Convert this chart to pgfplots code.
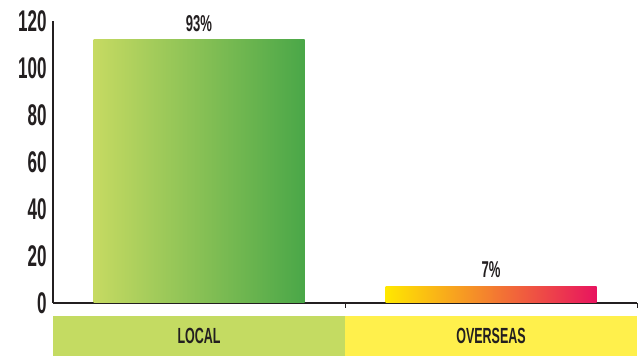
\documentclass[border=0pt]{standalone}
\usepackage{pgfplots}
\pgfplotsset{compat=1.18}
\usepackage{fontspec}
\setmainfont{Liberation Sans}[FakeStretch=0.57]
\definecolor{txt}{HTML}{231F20}
\definecolor{gA}{HTML}{C6DA62}
\definecolor{gB}{HTML}{4AA748}
\definecolor{oA}{HTML}{FFE800}
\definecolor{oB}{HTML}{F6995A}
\definecolor{oC}{HTML}{E8135F}
\definecolor{bandL}{HTML}{C4DB62}
\definecolor{bandO}{HTML}{FFF04C}
\begin{document}
\begin{tikzpicture}[x=1bp,y=1bp]
\begin{axis}[
  scale only axis,
  width=584bp, height=282bp,
  xmin=-0.5, xmax=1.5,
  ymin=0, ymax=120,
  ytick={0,20,...,120},
  xtick={0.5,1.5},
  xticklabels={},
  axis x line*=bottom,
  axis y line*=left,
  axis line style={draw=txt, line width=1.1bp},
  y axis line style={-}, x axis line style={-},
  ytick style={draw=none},
  xtick style={draw=txt, line width=1bp},
  major tick length=5bp,
  tick align=inside,
  yticklabel style={font=\bfseries\fontsize{30}{30}\selectfont, text=txt, xshift=-3bp},
  /pgf/number format/assume math mode=true,
  clip=false,
  ybar, bar width=211bp, bar shift=0pt,
  nodes near coords,
  point meta=explicit symbolic,
  every node near coord/.append style={font=\bfseries\fontsize{23}{23}\selectfont, text=txt, yshift=5bp},
]
\addplot[draw=none, left color=gA, right color=gB] coordinates {(0,112) [93\%]};
\addplot[draw=none, left color=oA, middle color=oB, right color=oC] coordinates {(1,7) [7\%]};
\fill[bandL] (axis cs:-0.5,-5.5) rectangle (axis cs:0.5,-22.6);
\fill[bandO] (axis cs:0.5,-5.5) rectangle (axis cs:1.5,-22.6);
\node[text=txt, font=\bfseries\fontsize{22}{22}\selectfont] at (axis cs:0,-14.1) {LOCAL};
\node[text=txt, font=\bfseries\fontsize{22}{22}\selectfont] at (axis cs:1,-14.1) {OVERSEAS};
\coordinate (bbsw) at (rel axis cs:-0.0908,-0.188);
\coordinate (bbne) at (rel axis cs:1.0017,1.0745);
\end{axis}
\pgfresetboundingbox
\path[use as bounding box] (bbsw) rectangle (bbne);
\end{tikzpicture}
\end{document}
